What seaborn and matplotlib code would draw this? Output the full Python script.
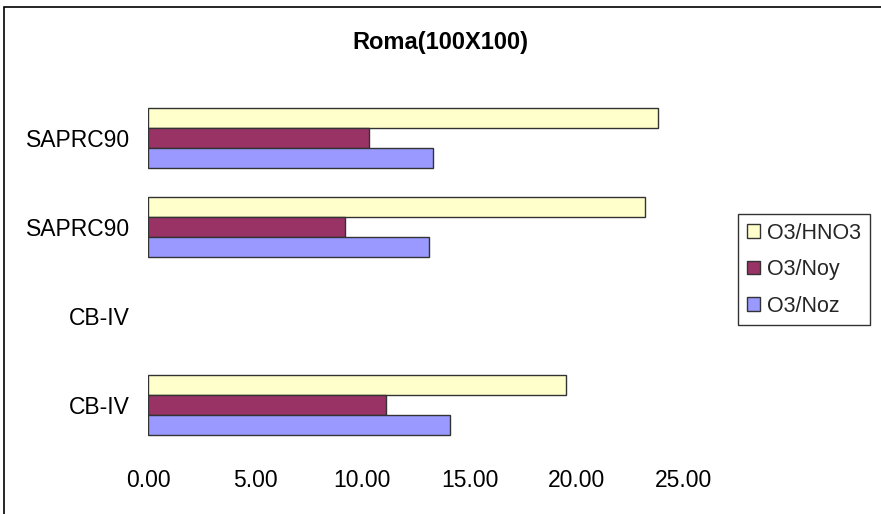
#!/usr/bin/env python3
"""Roma(100X100) ratio comparison, horizontal grouped bars."""

import numpy as np
import pandas as pd
import matplotlib
matplotlib.use('Agg')
import matplotlib.pyplot as plt
from matplotlib.patches import Rectangle
import seaborn as sns

# categories from top to bottom
models = ["SAPRC90", "SAPRC90", "CB-IV", "CB-IV"]
series = ["O3/HNO3", "O3/Noy", "O3/Noz"]
o3_hno3 = [23.8, 23.2, np.nan, 19.5]
o3_noy = [10.3, 9.2, np.nan, 11.1]
o3_noz = [13.3, 13.1, np.nan, 14.1]
x_ticks = [0, 5, 10, 15, 20, 25]

colors = {"O3/HNO3": "#FFFFCC", "O3/Noy": "#993366", "O3/Noz": "#9999FF"}

rows = []
for i, m in enumerate(models):
    for name, vals in zip(series, [o3_hno3, o3_noy, o3_noz]):
        rows.append({"slot": str(i), "model": m, "series": name, "value": vals[i]})
df = pd.DataFrame(rows)

sns.set_theme(style="white")
plt.rcParams['font.family'] = ['Liberation Sans', 'DejaVu Sans']

fig = plt.figure(figsize=(8.81, 5.14), dpi=100)
ax = fig.add_axes([148 / 881, 1 - 449.5 / 514, (684 - 148) / 881, (449.5 - 93.5) / 514])

sns.barplot(
    data=df.dropna(),
    x="value",
    y="slot",
    hue="series",
    order=[str(i) for i in range(len(models))],
    hue_order=series,
    palette=colors,
    saturation=1,
    width=0.67,
    edgecolor="#333333",
    linewidth=1.0,
    ax=ax,
)

ax.set_xlim(0, 25)
ax.set_xticks(x_ticks)
ax.set_xticklabels([f"{v:.2f}" for v in x_ticks], fontsize=16.5)
ax.set_yticks(range(len(models)))
ax.set_yticklabels(models, fontsize=16.5)
ax.tick_params(axis="x", length=0, pad=14, colors="black")
ax.tick_params(axis="y", length=0, pad=13, colors="black")
ax.set_xlabel("")
ax.set_ylabel("")
for s in ax.spines.values():
    s.set_visible(False)

fig.text(0.5, 1 - 43 / 514, "Roma(100X100)", ha="center", va="center",
         fontsize=17, fontweight="bold", color="black")

handles, labels = ax.get_legend_handles_labels()
ax.legend(handles, labels, loc="upper left", bbox_to_anchor=(738 / 881, 1 - 214 / 514),
          bbox_transform=fig.transFigure, fontsize=15.5, frameon=True, fancybox=False,
          edgecolor="black", handlelength=0.6, handleheight=0.6, handletextpad=0.35,
          labelspacing=0.72, borderpad=0.4, borderaxespad=0)
ax.get_legend().get_frame().set_linewidth(1.0)

# chart area border (left and top visible)
fig.patches.append(Rectangle((4 / 881, -0.1), 1.2, 1 - 7 / 514 + 0.1,
                             transform=fig.transFigure, fill=False,
                             edgecolor="black", linewidth=1.2))

plt.savefig("out.png", dpi=100)
plt.close()
